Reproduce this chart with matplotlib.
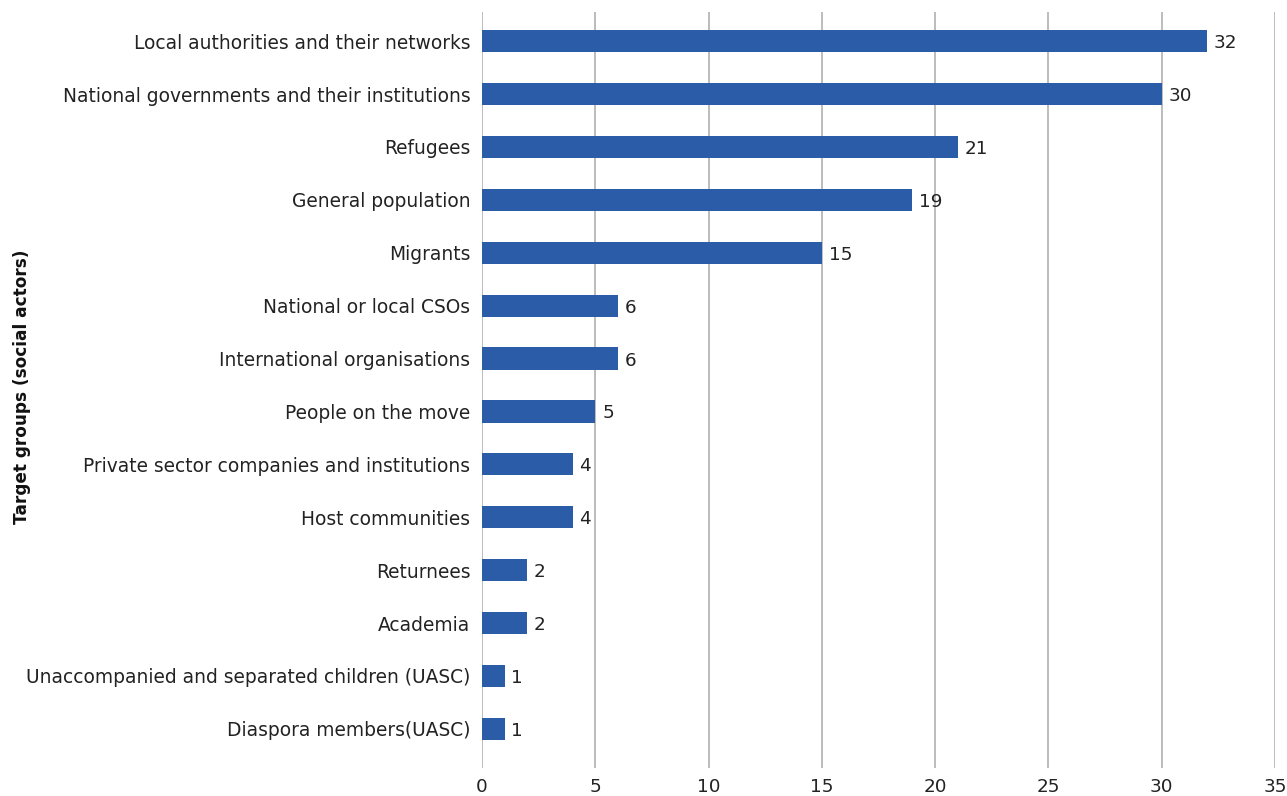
import matplotlib.pyplot as plt

# Target groups and number of mentions
groups = [
    "Local authorities and their networks",
    "National governments and their institutions",
    "Refugees",
    "General population",
    "Migrants",
    "National or local CSOs",
    "International organisations",
    "People on the move",
    "Private sector companies and institutions",
    "Host communities",
    "Returnees",
    "Academia",
    "Unaccompanied and separated children (UASC)",
    "Diaspora members(UASC)",
]
counts = [32, 30, 21, 19, 15, 6, 6, 5, 4, 4, 2, 2, 1, 1]
xticks = [0, 5, 10, 15, 20, 25, 30, 35]

plt.rcParams['font.family'] = ['DejaVu Sans']

fig = plt.figure(figsize=(12.87, 7.96), dpi=100)
ax = fig.add_axes([482 / 1287, 28 / 796, (1275 - 482) / 1287, 756 / 796])

pos = list(range(len(groups)))
bars = ax.barh(pos, counts, height=0.42, color='#2A5CA8', zorder=3)
for b, v in zip(bars, counts):
    ax.text(v + 0.3, b.get_y() + b.get_height() / 2, str(v),
            va='center_baseline', ha='left', fontsize=13.2, color='#222222')

ax.set_xlim(0, 35)
ax.set_ylim(13.74, -0.55)
ax.set_xticks(xticks)
ax.set_yticks(pos)
ax.set_yticklabels(groups, fontsize=13.4, color='#222222', va='center_baseline')
ax.tick_params(axis='x', labelsize=13.2, colors='#222222', length=0, pad=7)
ax.tick_params(axis='y', length=0, pad=8.5)
ax.xaxis.grid(True, color='#b0b0b0', linewidth=1.2, zorder=0)
for s in ax.spines.values():
    s.set_visible(False)

ax.set_ylabel('Target groups (social actors)', fontsize=12.2, fontweight='bold',
              color='#111111')
ax.yaxis.set_label_coords(-451 / 793, 0.504)

fig.savefig('out.png', dpi=100)
